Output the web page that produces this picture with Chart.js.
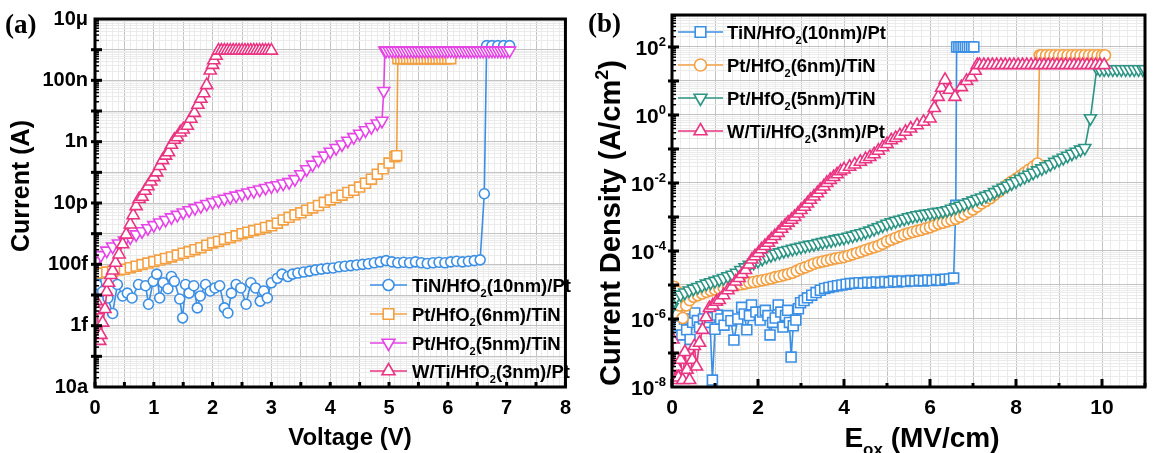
<!DOCTYPE html>
<html lang="en">
<head>
<meta charset="UTF-8" />
<title>HfO2 leakage: I-V and J-Eox</title>
<script src="https://cdn.jsdelivr.net/npm/chart.js"></script>
<style>
  html, body { margin: 0; padding: 0; background: #fff; }
  #wrap { position: relative; width: 1154px; height: 453px; overflow: hidden; }
  #chartA { position: absolute; left: 0; top: 0; width: 580px; height: 453px; }
  #chartB { position: absolute; left: 580px; top: 0; width: 574px; height: 453px; }
</style>
</head>
<body>
<div id="wrap">
  <canvas id="chartA" width="580" height="453"></canvas>
  <canvas id="chartB" width="574" height="453"></canvas>
</div>
<script>
// ---------- panel (a): current (A) vs voltage (V) ----------
const aTiN10 = [[0.03,2.2e-14],[0.08,4.8e-14],[0.13,1.3e-14],[0.22,8e-15],[0.3,2.5e-15],[0.38,2.2e-14],[0.47,9.3e-15],[0.55,1.15e-14],
  [0.63,8e-15],[0.74,2.2e-14],[0.86,2e-14],[0.91,5e-15],[0.99,2.8e-14],[1.05,4.8e-14],[1.1,8e-15],[1.16,2.5e-14],[1.24,1.6e-14],
  [1.3,4e-14],[1.35,2.8e-14],[1.44,7.4e-15],[1.49,1.8e-15],[1.54,2.2e-14],[1.6,1.15e-14],[1.68,2e-14],[1.74,3.8e-15],[1.79,9.3e-15],
  [1.88,2.2e-14],[1.96,1.35e-14],[2.04,1.7e-14],[2.12,2e-14],[2.2,3.8e-15],[2.26,2.6e-15],[2.32,1.15e-14],[2.4,2.2e-14],[2.48,1.7e-14],
  [2.57,5e-15],[2.65,2.5e-14],[2.73,1.7e-14],[2.81,6.3e-15],[2.87,1.35e-14],[2.93,8e-15],[3.0,2.5e-14],[3.1,3.5e-14],[3.18,4.8e-14],
  [3.28,4e-14],[3.36,4.8e-14],[3.45,5.2e-14],[3.55,5.6e-14],[3.65,6e-14],[3.75,6.6e-14],[3.85,7e-14],[3.95,7.4e-14],[4.05,7.6e-14],
  [4.15,8.3e-14],[4.25,8.7e-14],[4.35,9.1e-14],[4.45,9.5e-14],[4.55,1e-13],[4.65,1.05e-13],[4.75,1.12e-13],[4.85,1.2e-13],[4.95,1.32e-13],
  [5.05,1.2e-13],[5.15,1.12e-13],[5.25,1.17e-13],[5.35,1.12e-13],[5.45,1.2e-13],[5.55,1.12e-13],[5.65,1.07e-13],[5.75,1.12e-13],
  [5.85,1.17e-13],[5.95,1.12e-13],[6.05,1.2e-13],[6.15,1.26e-13],[6.25,1.2e-13],[6.35,1.26e-13],[6.45,1.32e-13],[6.55,1.4e-13],
  [6.62,2e-11],[6.66,1.35e-6],[6.75,1.35e-6],[6.85,1.35e-6],[6.95,1.35e-6],[7.05,1.35e-6]];

const aPt6 = [[0.1,5.2e-14],[0.2,5.6e-14],[0.3,6e-14],[0.4,6.5e-14],[0.5,6.9e-14],[0.6,7.8e-14],[0.7,8.7e-14],[0.8,9.8e-14],[0.9,1.1e-13],
  [1.0,1.23e-13],[1.1,1.38e-13],[1.2,1.55e-13],[1.3,1.74e-13],[1.4,2e-13],[1.5,2.3e-13],[1.6,2.6e-13],[1.7,3e-13],[1.8,3.5e-13],
  [1.9,4.2e-13],[2.0,5e-13],[2.1,5.6e-13],[2.2,6.5e-13],[2.3,7.4e-13],[2.4,8.5e-13],[2.5,1e-12],[2.6,1.12e-12],[2.7,1.26e-12],
  [2.8,1.4e-12],[2.9,1.6e-12],[3.0,1.8e-12],[3.1,2.2e-12],[3.2,2.8e-12],[3.3,3.4e-12],[3.4,4.1e-12],[3.5,4.8e-12],[3.6,5.8e-12],
  [3.7,6.9e-12],[3.8,8.3e-12],[3.9,1.05e-11],[4.0,1.26e-11],[4.1,1.5e-11],[4.2,1.8e-11],[4.3,2.2e-11],[4.4,2.6e-11],[4.5,3.3e-11],
  [4.6,4.4e-11],[4.7,6e-11],[4.8,8.7e-11],[4.9,1.3e-10],[5.0,2e-10],[5.1,3.2e-10],[5.13,3.5e-10],
  [5.15,5.1e-7],[5.2,5.1e-7],[5.25,5.1e-7],[5.3,5.1e-7],[5.35,5.1e-7],[5.4,5.1e-7],[5.45,5.1e-7],[5.5,5.1e-7],[5.55,5.1e-7],
  [5.6,5.1e-7],[5.65,5.1e-7],[5.7,5.1e-7],[5.75,5.1e-7],[5.8,5.1e-7],[5.85,5.1e-7],[5.9,5.1e-7],[5.95,5.1e-7],[6.0,5.1e-7],[6.05,5.1e-7]];

const aPt5 = [[0.02,1.26e-13],[0.1,2e-13],[0.2,2.8e-13],[0.3,3.8e-13],[0.4,4.8e-13],[0.5,6e-13],[0.6,7.6e-13],[0.7,9.5e-13],[0.8,1.2e-12],
  [0.9,1.5e-12],[1.0,1.9e-12],[1.1,2.3e-12],[1.2,2.8e-12],[1.3,3.4e-12],[1.4,4.1e-12],[1.5,4.9e-12],[1.6,5.8e-12],[1.7,6.8e-12],
  [1.8,7.9e-12],[1.9,9.3e-12],[2.0,1.07e-11],[2.1,1.2e-11],[2.2,1.38e-11],[2.3,1.55e-11],[2.4,1.74e-11],[2.5,1.95e-11],[2.6,2.2e-11],
  [2.7,2.45e-11],[2.8,2.75e-11],[2.9,3.1e-11],[3.0,3.5e-11],[3.1,3.8e-11],[3.2,4.3e-11],[3.3,4.8e-11],[3.4,6e-11],[3.5,8.7e-11],
  [3.6,1.26e-10],[3.7,1.78e-10],[3.8,2.5e-10],[3.9,3.5e-10],[4.0,4.7e-10],[4.1,6.2e-10],[4.2,8.1e-10],[4.3,1.07e-9],[4.4,1.41e-9],
  [4.5,1.82e-9],[4.6,2.35e-9],[4.7,3e-9],[4.8,3.9e-9],[4.88,4.8e-9],[4.91,4.5e-8],[4.93,9.3e-7],
  [4.95,9.3e-7],[5.0,9.3e-7],[5.05,9.3e-7],[5.1,9.3e-7],[5.15,9.3e-7],[5.2,9.3e-7],[5.25,9.3e-7],[5.3,9.3e-7],[5.35,9.3e-7],
  [5.4,9.3e-7],[5.45,9.3e-7],[5.5,9.3e-7],[5.55,9.3e-7],[5.6,9.3e-7],[5.65,9.3e-7],[5.7,9.3e-7],[5.75,9.3e-7],[5.8,9.3e-7],
  [5.85,9.3e-7],[5.9,9.3e-7],[5.95,9.3e-7],[6.0,9.3e-7],[6.05,9.3e-7],[6.1,9.3e-7],[6.15,9.3e-7],[6.2,9.3e-7],[6.25,9.3e-7],
  [6.3,9.3e-7],[6.35,9.3e-7],[6.4,9.3e-7],[6.45,9.3e-7],[6.5,9.3e-7],[6.55,9.3e-7],[6.6,9.3e-7],[6.65,9.3e-7],[6.7,9.3e-7],
  [6.75,9.3e-7],[6.8,9.3e-7],[6.85,9.3e-7],[6.9,9.3e-7],[6.95,9.3e-7],[7.0,9.3e-7],[7.05,9.3e-7]];

const aW3 = [[0.02,6.3e-15],[0.04,3.2e-15],[0.06,6.3e-16],[0.08,3.2e-16],[0.1,5e-16],[0.13,1.26e-15],[0.17,3.5e-15],[0.2,1.26e-14],
  [0.23,2.5e-14],[0.27,4.5e-14],[0.3,6.3e-14],[0.35,1.12e-13],[0.41,2.1e-13],[0.47,4.5e-13],[0.53,9.3e-13],[0.6,2e-12],[0.65,4e-12],
  [0.7,7.9e-12],[0.75,1.35e-11],[0.8,1.6e-11],[0.85,2.5e-11],[0.9,3.5e-11],[0.95,5e-11],[1.0,7e-11],[1.05,1e-10],[1.1,1.6e-10],
  [1.15,2.5e-10],[1.2,3.5e-10],[1.25,4.5e-10],[1.3,7.9e-10],[1.35,1.15e-9],[1.4,1.4e-9],[1.45,2e-9],[1.5,2.5e-9],[1.57,3.3e-9],
  [1.63,5.6e-9],[1.69,8.7e-9],[1.75,1.6e-8],[1.8,2.5e-8],[1.85,3.8e-8],[1.9,7e-8],[1.96,2.1e-7],[2.0,3.2e-7],[2.02,4.5e-7],
  [2.06,6.3e-7],[2.1,9.3e-7],[2.15,9.3e-7],[2.2,9.3e-7],[2.25,9.3e-7],[2.3,9.3e-7],[2.35,9.3e-7],[2.4,9.3e-7],[2.45,9.3e-7],
  [2.5,9.3e-7],[2.55,9.3e-7],[2.6,9.3e-7],[2.65,9.3e-7],[2.7,9.3e-7],[2.75,9.3e-7],[2.8,9.3e-7],[2.85,9.3e-7],[2.9,9.3e-7],
  [2.95,9.3e-7],[3.0,9.3e-7]];

// ---------- panel (b): current density (A/cm2) vs Eox (MV/cm) ----------
const bTiN10 = [[0.05,1.26e-6],[0.11,1.3e-6],[0.17,6.3e-7],[0.23,3.4e-7],[0.29,1e-6],[0.34,4.8e-7],[0.42,2.5e-7],[0.48,8e-7],
  [0.53,1.5e-6],[0.59,9e-7],[0.64,5.8e-7],[0.73,1e-6],[0.82,7.9e-7],[0.88,1.1e-6],[0.94,1.6e-8],[1.0,5e-7],[1.05,1.3e-6],
  [1.13,1e-6],[1.21,6.6e-7],[1.3,1.26e-6],[1.37,8.9e-7],[1.44,2.4e-7],[1.53,1e-6],[1.62,2.2e-6],[1.68,1.4e-6],[1.74,4.8e-7],
  [1.8,1.26e-6],[1.85,2.6e-6],[1.95,1.6e-6],[2.05,9.3e-7],[2.11,1.6e-6],[2.17,1.8e-6],[2.23,1.26e-6],[2.28,3.4e-7],[2.34,7.9e-7],
  [2.4,1.07e-6],[2.47,2.6e-6],[2.53,1.6e-6],[2.58,5.8e-7],[2.64,1.26e-6],[2.69,1.8e-6],[2.73,7.9e-7],[2.77,7.6e-8],[2.82,6.3e-7],
  [2.88,9.3e-7],[2.94,2e-6],[2.99,3e-6],[3.07,3.5e-6],[3.15,4.2e-6],[3.25,5e-6],[3.35,6e-6],[3.45,7e-6],[3.55,7.9e-6],[3.65,8.5e-6],
  [3.75,9.1e-6],[3.85,9.5e-6],[3.95,1e-5],[4.05,1.05e-5],[4.15,1.1e-5],[4.25,1.12e-5],[4.35,1.17e-5],[4.45,1.12e-5],[4.55,1.2e-5],
  [4.65,1.15e-5],[4.75,1.23e-5],[4.85,1.17e-5],[4.95,1.26e-5],[5.05,1.2e-5],[5.15,1.3e-5],[5.25,1.23e-5],[5.35,1.32e-5],
  [5.45,1.26e-5],[5.55,1.35e-5],[5.65,1.3e-5],[5.75,1.38e-5],[5.85,1.32e-5],[5.95,1.4e-5],[6.05,1.35e-5],[6.15,1.45e-5],
  [6.25,1.38e-5],[6.35,1.48e-5],[6.45,1.5e-5],[6.55,1.6e-5],[6.6,2.2e-3],[6.62,100],[6.67,100],[6.72,100],[6.77,100],[6.82,100],
  [6.87,100],[6.92,100],[6.97,100],[7.02,100]];

const bPt6 = [[0.05,8.9e-6],[0.12,6.3e-6],[0.18,2.5e-6],[0.25,1.07e-6],[0.33,2.5e-6],[0.41,3.6e-6],[0.5,4.5e-6],[0.6,5e-6],[0.7,5.6e-6],
  [0.8,6.3e-6],[0.9,6.9e-6],[1.0,7.4e-6],[1.1,7.9e-6],[1.2,8.5e-6],[1.3,9.1e-6],[1.4,9.5e-6],[1.5,1e-5],[1.6,1.05e-5],[1.7,1.1e-5],
  [1.8,1.17e-5],[1.9,1.23e-5],[2.0,1.3e-5],[2.1,1.38e-5],[2.2,1.45e-5],[2.3,1.55e-5],[2.4,1.7e-5],[2.5,1.8e-5],[2.6,1.95e-5],
  [2.7,2.1e-5],[2.8,2.3e-5],[2.9,2.6e-5],[3.0,3e-5],[3.1,3.3e-5],[3.2,3.7e-5],[3.3,4.2e-5],[3.4,4.6e-5],[3.5,4.9e-5],[3.6,5.2e-5],
  [3.7,5.6e-5],[3.8,6e-5],[3.9,6.3e-5],[4.0,6.61e-5],[4.1,7.24e-5],[4.2,7.94e-5],[4.3,8.71e-5],[4.4,9.55e-5],[4.5,1.07e-4],
  [4.6,1.17e-4],[4.7,1.29e-4],[4.8,1.41e-4],[4.9,1.62e-4],[5.0,1.91e-4],[5.1,2.14e-4],[5.2,2.4e-4],[5.3,2.69e-4],[5.4,3.02e-4],
  [5.5,3.31e-4],[5.6,3.63e-4],[5.7,3.89e-4],[5.8,4.17e-4],[5.9,4.57e-4],[6.0,5.01e-4],[6.1,5.62e-4],[6.2,6.31e-4],[6.3,6.76e-4],
  [6.4,7.41e-4],[6.5,8.13e-4],[6.6,8.91e-4],[6.7,1.02e-3],[6.8,1.2e-3],[6.9,1.41e-3],[7.0,1.66e-3],[7.1,2.04e-3],[7.2,2.51e-3],
  [7.3,2.95e-3],[7.4,3.55e-3],[7.5,4.47e-3],[7.6,5.62e-3],[7.7,7.08e-3],[7.8,8.91e-3],[7.9,1.1e-2],[8.0,1.32e-2],[8.1,1.62e-2],
  [8.2,2e-2],[8.3,2.45e-2],[8.4,3.02e-2],[8.5,3.72e-2],[8.55,57],[8.6,57],[8.7,57],[8.8,57],[8.9,57],[9.0,57],[9.1,57],[9.2,57],
  [9.3,57],[9.4,57],[9.5,57],[9.6,57],[9.7,57],[9.8,57],[9.9,57],[10.0,57],[10.07,57]];

const bPt5 = [[0.0,2.2e-6],[0.05,3.5e-6],[0.1,4.5e-6],[0.2,5.2e-6],[0.3,6e-6],[0.4,6.9e-6],[0.5,7.8e-6],[0.6,8.7e-6],[0.7,9.8e-6],
  [0.8,1.1e-5],[0.9,1.2e-5],[1.0,1.32e-5],[1.1,1.45e-5],[1.2,1.6e-5],[1.3,1.8e-5],[1.4,2e-5],[1.5,2.3e-5],[1.6,2.75e-5],[1.7,3.3e-5],
  [1.8,3.9e-5],[1.9,4.5e-5],[2.0,5.1e-5],[2.1,5.9e-5],[2.2,6.8e-5],[2.3,7.6e-5],[2.4,8.3e-5],[2.5,9.1e-5],[2.6,1e-4],[2.7,1.07e-4],
  [2.8,1.15e-4],[2.9,1.23e-4],[3.0,1.32e-4],[3.1,1.41e-4],[3.2,1.51e-4],[3.3,1.58e-4],[3.4,1.7e-4],[3.5,1.82e-4],[3.6,1.95e-4],
  [3.7,2.04e-4],[3.8,2.19e-4],[3.9,2.34e-4],[4.0,2.45e-4],[4.1,2.63e-4],[4.2,2.82e-4],[4.3,3.09e-4],[4.4,3.31e-4],[4.5,3.63e-4],
  [4.6,3.98e-4],[4.7,4.47e-4],[4.8,5.01e-4],[4.9,5.62e-4],[5.0,6.31e-4],[5.1,6.92e-4],[5.2,7.59e-4],[5.3,8.32e-4],[5.4,8.91e-4],
  [5.5,9.77e-4],[5.6,1.05e-3],[5.7,1.12e-3],[5.8,1.17e-3],[5.9,1.23e-3],[6.0,1.29e-3],[6.1,1.35e-3],[6.2,1.41e-3],[6.3,1.48e-3],
  [6.4,1.58e-3],[6.5,1.74e-3],[6.6,1.91e-3],[6.7,2.14e-3],[6.8,2.4e-3],[6.9,2.69e-3],[7.0,3.02e-3],[7.1,3.39e-3],[7.2,3.72e-3],
  [7.3,4.17e-3],[7.4,4.68e-3],[7.5,5.37e-3],[7.6,6.31e-3],[7.7,7.24e-3],[7.8,8.32e-3],[7.9,9.77e-3],[8.0,1.12e-2],[8.1,1.32e-2],
  [8.2,1.51e-2],[8.3,1.74e-2],[8.4,2e-2],[8.5,2.34e-2],[8.6,2.69e-2],[8.7,3.09e-2],[8.8,3.55e-2],[8.9,4.17e-2],[9.0,4.79e-2],
  [9.1,5.5e-2],[9.2,6.31e-2],[9.3,7.24e-2],[9.4,8.32e-2],[9.5,9.55e-2],[9.6,0.107],[9.73,0.8],[9.88,24],[9.95,22],[10.05,22],
  [10.15,22],[10.25,22],[10.35,22],[10.45,22],[10.55,22],[10.65,22],[10.75,22],[10.85,22],[10.95,22],[11.0,22]];

const bW3 = [[0.02,2.5e-7],[0.05,4e-8],[0.08,1.6e-8],[0.11,3.9e-8],[0.15,1.9e-8],[0.2,6.3e-8],[0.25,1.6e-8],[0.3,1.07e-7],[0.35,3.2e-8],
  [0.41,1.6e-8],[0.47,6.3e-8],[0.52,1.6e-7],[0.57,4e-8],[0.64,2e-7],[0.71,4.8e-7],[0.79,1.12e-6],[0.87,2.1e-6],[0.95,2.5e-6],
  [1.03,3.2e-6],[1.1,3.6e-6],[1.2,5e-6],[1.3,7e-6],[1.39,8.7e-6],[1.48,1.26e-5],[1.56,1.6e-5],[1.63,2.1e-5],[1.71,2.75e-5],
  [1.79,4e-5],[1.86,5.6e-5],[1.93,7e-5],[2.01,8.7e-5],[2.08,1.12e-4],[2.16,1.4e-4],[2.24,1.74e-4],[2.31,2.2e-4],[2.39,2.75e-4],
  [2.47,3.4e-4],[2.55,4.5e-4],[2.63,5.6e-4],[2.7,6.8e-4],[2.78,8.3e-4],[2.85,1e-3],[2.93,1.26e-3],[3.0,1.6e-3],[3.08,2e-3],
  [3.15,2.5e-3],[3.22,3.2e-3],[3.3,4e-3],[3.38,5e-3],[3.45,6.3e-3],[3.53,7.9e-3],[3.6,1e-2],[3.68,1.23e-2],[3.76,1.5e-2],
  [3.84,1.8e-2],[3.92,2.2e-2],[4.0,2.5e-2],[4.13,3e-2],[4.25,3.5e-2],[4.38,4.2e-2],[4.5,5e-2],[4.6,5.8e-2],[4.7,7e-2],[4.8,8.9e-2],
  [4.9,0.112],[5.0,0.14],[5.1,0.18],[5.2,0.21],[5.3,0.25],[5.43,0.32],[5.55,0.4],[5.7,0.5],[5.85,0.63],[6.0,0.79],[6.1,1.6],
  [6.19,3.4],[6.27,6.3],[6.35,10.7],[6.45,5.5],[6.58,3.4],[6.73,6.6],[6.85,10],[6.96,13],[7.05,20],[7.1,29.5],[7.15,29.5],
  [7.25,29.5],[7.35,29.5],[7.45,29.5],[7.55,29.5],[7.65,29.5],[7.75,29.5],[7.85,29.5],[7.95,29.5],[8.05,29.5],[8.15,29.5],
  [8.25,29.5],[8.35,29.5],[8.45,29.5],[8.55,29.5],[8.65,29.5],[8.75,29.5],[8.85,29.5],[8.95,29.5],[9.05,29.5],[9.15,29.5],
  [9.25,29.5],[9.35,29.5],[9.45,29.5],[9.55,29.5],[9.65,29.5],[9.75,29.5],[9.85,29.5],[9.95,29.5],[10.05,29.5]];

// tick labels
const aXLabels = [0, 1, 2, 3, 4, 5, 6, 7, 8];
const aYLabelVals = [1e-17, 1e-15, 1e-13, 1e-11, 1e-9, 1e-7, 1e-5];
const aYLabelText = ['10a', '1f', '100f', '10p', '1n', '100n', '10μ'];
const bXLabels = [0, 2, 4, 6, 8, 10];
const bYLabelVals = [1e-8, 1e-6, 1e-4, 1e-2, 1, 1e2];
const bYLabelExp = ['-8', '-6', '-4', '-2', '0', '2'];

// legend names, "|" marks the subscript
const aNames = ['TiN/HfO|2|(10nm)/Pt', 'Pt/HfO|2|(6nm)/TiN', 'Pt/HfO|2|(5nm)/TiN', 'W/Ti/HfO|2|(3nm)/Pt'];
const bNames = ['TiN/HfO|2|(10nm)/Pt', 'Pt/HfO|2|(6nm)/TiN', 'Pt/HfO|2|(5nm)/TiN', 'W/Ti/HfO|2|(3nm)/Pt'];

const cBlue = '#3b8fe4', cOrange = '#f3a043', cMagenta = '#e545e6', cPink = '#ea3482', cTeal = '#2c9484';
const FONT = '"Liberation Sans", Arial, sans-serif';
const SERIF = '"Liberation Serif", "Times New Roman", serif';

Chart.defaults.font.family = FONT;
Chart.defaults.color = '#000';

function isDecade(v) { const l = Math.log10(v); return Math.abs(l - Math.round(l)) < 1e-6; }
function isMultiple(v, step) { const q = v / step; return Math.abs(q - Math.round(q)) < 1e-6; }
function logTicks(lo, hi, max) {
  const out = [];
  for (let d = lo; d <= hi; d++) for (let k = 1; k < 10; k++) {
    const v = k * Math.pow(10, d);
    if (v <= max * 1.0001) out.push(v);
  }
  return out;
}
function linTicks(max, step) {
  const out = [];
  for (let i = 0; i <= Math.round(max / step); i++) out.push(+(i * step).toFixed(3));
  return out;
}
function subParts(s) { return s.split('|').map((t, i) => [t, i % 2 ? 1 : 0]); }

// text with sub (1) / superscript (-1) pieces, y = middle of the capitals
function richText(ctx, segs, x, y, size, align) {
  const small = Math.round(size * 0.62);
  const fontOf = m => `bold ${m ? small : size}px ${FONT}`;
  let w = 0;
  segs.forEach(([t, m]) => { ctx.font = fontOf(m); w += ctx.measureText(t).width; });
  let cx = align === 'right' ? x - w : align === 'center' ? x - w / 2 : x;
  ctx.textAlign = 'left';
  ctx.textBaseline = 'alphabetic';
  const base = y + size * 0.36;
  segs.forEach(([t, m]) => {
    ctx.font = fontOf(m);
    const dy = m === 1 ? size * 0.3 : m === -1 ? -size * 0.42 : 0;
    ctx.fillText(t, cx, base + dy);
    cx += ctx.measureText(t).width;
  });
}

function marker(ctx, style, rot, r, x, y) {
  ctx.beginPath();
  if (style === 'circle') ctx.arc(x, y, r, 0, Math.PI * 2);
  else if (style === 'rect') { const s = r * Math.SQRT1_2; ctx.rect(x - s, y - s, 2 * s, 2 * s); }
  else {
    let a = rot * Math.PI / 180;
    ctx.moveTo(x + Math.sin(a) * r, y - Math.cos(a) * r);
    a += 2 * Math.PI / 3; ctx.lineTo(x + Math.sin(a) * r, y - Math.cos(a) * r);
    a += 2 * Math.PI / 3; ctx.lineTo(x + Math.sin(a) * r, y - Math.cos(a) * r);
    ctx.closePath();
  }
  ctx.fill();
  ctx.stroke();
}

function drawLegend(ctx, chart, names, x1, x2, tx, rows, size) {
  chart.data.datasets.forEach((ds, i) => {
    const y = rows[i];
    ctx.strokeStyle = ds.borderColor;
    ctx.lineWidth = 1.6;
    ctx.beginPath(); ctx.moveTo(x1, y); ctx.lineTo(x2, y); ctx.stroke();
    ctx.fillStyle = '#fff';
    ctx.lineWidth = 1.6;
    marker(ctx, ds.pointStyle, ds.pointRotation, ds.pointRadius + 0.5, (x1 + x2) / 2, y);
    ctx.fillStyle = '#000';
    richText(ctx, subParts(names[i]), tx, y, size, 'left');
  });
}

function seg(ctx, x1, y1, x2, y2) { ctx.beginPath(); ctx.moveTo(x1, y1); ctx.lineTo(x2, y2); ctx.stroke(); }

function yAxisMarks(ctx, a, ys, vals) {
  vals.forEach(v => {
    const py = ys.getPixelForValue(v);
    if (py < a.top + 1 || py > a.bottom - 1) return;
    if (isDecade(v)) { ctx.lineWidth = 3; seg(ctx, a.left - 4, py, a.left + 7, py); }
    else { ctx.lineWidth = 1.5; seg(ctx, a.left, py, a.left + 4, py); }
  });
}

function series(pts, color, style, radius, rot, order) {
  return {
    data: pts.map(p => ({ x: p[0], y: p[1] })),
    borderColor: color, backgroundColor: '#fff', borderWidth: 1.6,
    pointStyle: style, pointRotation: rot, pointRadius: radius, pointHoverRadius: radius,
    pointBorderColor: color, pointBackgroundColor: '#fff', pointBorderWidth: 1.6,
    tension: 0, fill: false, order: order
  };
}

const majorGrid = '#c3c3c3', minorGrid = '#ebebeb';

function makeOptions(xMax, xStep, xMajor, xLabels, yMin, yMax, yLo, yHi, yWidth, rightPad, yCallback, yShow, tickSize) {
  return {
    responsive: false, animation: false, events: [],
    layout: { padding: { left: 0, right: rightPad, top: 15, bottom: 0 } },
    plugins: { legend: { display: false }, tooltip: { enabled: false } },
    scales: {
      x: {
        type: 'linear', min: 0, max: xMax,
        afterBuildTicks: s => { s.ticks = linTicks(xMax, xStep).map(v => ({ value: v })); },
        afterFit: s => { s.height = 66; },
        grid: { drawTicks: false, lineWidth: 1, color: c => (c.tick && isMultiple(c.tick.value, xMajor)) ? majorGrid : minorGrid },
        border: { display: false },
        ticks: { autoSkip: false, maxRotation: 0, padding: 9, color: '#000', font: { size: tickSize, weight: 'bold' },
          callback: v => xLabels.includes(v) ? String(v) : '' }
      },
      y: {
        type: 'logarithmic', min: yMin, max: yMax,
        afterBuildTicks: s => { s.ticks = logTicks(yLo, yHi, yMax).map(v => ({ value: v })); },
        afterFit: s => { s.width = yWidth; },
        grid: { drawTicks: false, lineWidth: 1, color: c => (c.tick && isDecade(c.tick.value)) ? majorGrid : minorGrid },
        border: { display: false },
        ticks: { display: yShow, autoSkip: false, padding: 7, color: '#000', font: { size: 20, weight: 'bold' }, callback: yCallback }
      }
    }
  };
}

// ---------- chart (a) ----------
const decoA = {
  id: 'decoA',
  afterDraw(chart) {
    const ctx = chart.ctx, a = chart.chartArea, xs = chart.scales.x, ys = chart.scales.y;
    ctx.save();
    ctx.strokeStyle = '#000';
    ctx.lineWidth = 3;
    linTicks(8, 0.5).forEach(v => { const px = xs.getPixelForValue(v); seg(ctx, px, a.bottom, px, a.bottom - 5); });
    yAxisMarks(ctx, a, ys, logTicks(-17, -5, 1e-5));
    ctx.lineWidth = 3;
    ctx.strokeRect(a.left, a.top, a.right - a.left, a.bottom - a.top);

    drawLegend(ctx, chart, aNames, 370, 407, 412, [285, 314, 343, 371], 18.5);

    ctx.fillStyle = '#000';
    ctx.font = `bold 27px ${SERIF}`;
    ctx.textAlign = 'left'; ctx.textBaseline = 'middle';
    ctx.fillText('(a)', 5, 26);
    richText(ctx, [['Voltage (V)', 0]], 350, 436, 24, 'center');
    ctx.translate(20, 186); ctx.rotate(-Math.PI / 2);
    richText(ctx, [['Current (A)', 0]], 0, 0, 25, 'center');
    ctx.restore();
  }
};

new Chart(document.getElementById('chartA'), {
  type: 'line',
  data: { datasets: [
    series(aTiN10, cBlue, 'circle', 5, 0, 4),
    series(aPt6, cOrange, 'rect', 7, 0, 3),
    series(aPt5, cMagenta, 'triangle', 7, 180, 2),
    series(aW3, cPink, 'triangle', 7, 0, 1)
  ] },
  options: makeOptions(8, 0.1, 0.5, aXLabels, 1e-17, 1e-5, -17, -5, 95, 2,
    v => { const i = aYLabelVals.findIndex(t => Math.abs(v / t - 1) < 1e-6); return i < 0 ? '' : aYLabelText[i]; }, true, 20),
  plugins: [decoA]
});

// ---------- chart (b) ----------
const decoB = {
  id: 'decoB',
  afterDraw(chart) {
    const ctx = chart.ctx, a = chart.chartArea, xs = chart.scales.x, ys = chart.scales.y;
    ctx.save();
    ctx.strokeStyle = '#000';
    ctx.lineWidth = 3;
    linTicks(11, 1).forEach(v => {
      const px = xs.getPixelForValue(v);
      seg(ctx, px, a.bottom, px, a.bottom - (isMultiple(v, 2) ? 8 : 4));
    });
    yAxisMarks(ctx, a, ys, logTicks(-8, 2, 870));
    ctx.lineWidth = 3;
    ctx.strokeRect(a.left, a.top, a.right - a.left, a.bottom - a.top);

    ctx.fillStyle = '#000';
    bYLabelVals.forEach((v, i) => {
      richText(ctx, [['10', 0], [bYLabelExp[i], -1]], a.left - 6, ys.getPixelForValue(v), 21, 'right');
    });

    drawLegend(ctx, chart, bNames, 98, 143, 147, [32, 65, 98, 131], 18.5);

    ctx.fillStyle = '#000';
    ctx.font = `bold 27px ${SERIF}`;
    ctx.textAlign = 'left'; ctx.textBaseline = 'middle';
    ctx.fillText('(b)', 8, 25);
    richText(ctx, [['E', 0], ['ox', 1], [' (MV/cm)', 0]], 342, 437, 28, 'center');
    ctx.translate(30, 223); ctx.rotate(-Math.PI / 2);
    richText(ctx, [['Current Density (A/cm', 0], ['2', -1], [')', 0]], 0, 0, 29, 'center');
    ctx.restore();
  }
};

new Chart(document.getElementById('chartB'), {
  type: 'line',
  data: { datasets: [
    series(bTiN10, cBlue, 'rect', 7, 0, 4),
    series(bPt6, cOrange, 'circle', 5.5, 0, 3),
    series(bPt5, cTeal, 'triangle', 7, 180, 2),
    series(bW3, cPink, 'triangle', 7, 0, 1)
  ] },
  options: makeOptions(11, 0.2, 1, bXLabels, 1e-8, 870, -8, 2, 92, 1, () => '', false, 21),
  plugins: [decoB]
});
</script>
</body>
</html>
